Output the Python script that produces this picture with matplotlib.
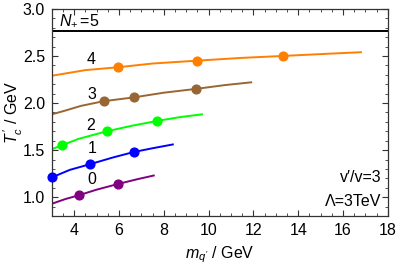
import matplotlib
matplotlib.use("Agg")
import matplotlib.pyplot as plt
from matplotlib.ticker import MultipleLocator

plt.rcParams['font.family'] = ['Liberation Sans', 'DejaVu Sans']
plt.rcParams['mathtext.fontset'] = 'custom'
plt.rcParams['mathtext.rm'] = 'Liberation Sans'
plt.rcParams['mathtext.it'] = 'Liberation Sans:italic'

# curves (m_q' in GeV, T_c' in GeV)
x4 = [3.0, 4.5, 5.95, 7.5, 9.47, 11.5, 13.3, 15.0, 16.8]
y4 = [2.29, 2.35, 2.38, 2.42, 2.45, 2.48, 2.50, 2.52, 2.54]
x3 = [3.0, 3.6, 4.3, 5.32, 6.66, 8.0, 9.43, 10.7, 11.9]
y3 = [1.88, 1.92, 1.97, 2.02, 2.06, 2.11, 2.15, 2.19, 2.22]
x2 = [3.0, 3.43, 4.2, 5.45, 6.6, 7.7, 8.7, 9.7]
y2 = [1.51, 1.55, 1.62, 1.70, 1.76, 1.81, 1.85, 1.88]
x1 = [3.0, 3.8, 4.7, 5.7, 6.66, 7.5, 8.4]
y1 = [1.21, 1.29, 1.35, 1.42, 1.48, 1.52, 1.56]
x0 = [3.0, 3.6, 4.2, 5.0, 5.95, 6.8, 7.55]
y0 = [0.93, 0.98, 1.02, 1.08, 1.14, 1.19, 1.23]

# marked points
px4 = [5.95, 9.47, 13.3]
py4 = [2.38, 2.45, 2.50]
px3 = [5.32, 6.66, 9.43]
py3 = [2.02, 2.06, 2.15]
px2 = [3.43, 5.45, 7.7]
py2 = [1.55, 1.70, 1.81]
px1 = [3.0, 4.7, 6.66]
py1 = [1.21, 1.35, 1.48]
px0 = [4.2, 5.95]
py0 = [1.02, 1.14]

n_plus_5 = 2.77
labels = ['0', '1', '2', '3', '4']
label_x = [4.8, 4.8, 4.75, 4.8, 4.75]
label_y = [1.19, 1.52, 1.76, 2.09, 2.46]

colors = ['#800080', '#0000ff', '#00ff00', '#996633', '#ff7f00']
fs = 11.5

fig = plt.figure(figsize=(3.99, 2.70), dpi=100)
ax = fig.add_axes([0.130, 0.200, 0.842, 0.767])

curves = [(x0, y0, px0, py0), (x1, y1, px1, py1), (x2, y2, px2, py2),
          (x3, y3, px3, py3), (x4, y4, px4, py4)]
for (cx, cy, mx, my), c in zip(curves, colors):
    ax.plot(cx, cy, '-', color=c, lw=1.4)
    ax.plot(mx, my, 'o', color=c, ms=6.3, clip_on=False, zorder=3)

for t, lx, ly in zip(labels, label_x, label_y):
    ax.text(lx, ly, t, fontsize=fs, ha='center', va='center')

ax.axhline(n_plus_5, color='black', lw=1.4)
ax.text(3.3, 2.88, r'$N_{+}\,$=5', fontsize=fs, ha='left', va='center')

ax.text(17.7, 1.21, "v\u2032/v=3", fontsize=fs, ha='right', va='center')
ax.text(17.7, 0.95, 'Λ=3TeV', fontsize=fs, ha='right', va='center')

ax.set_xlim(3, 18)
ax.set_ylim(0.8, 3.0)
ax.xaxis.set_major_locator(MultipleLocator(2))
ax.xaxis.set_minor_locator(MultipleLocator(0.5))
ax.yaxis.set_major_locator(MultipleLocator(0.5))
ax.yaxis.set_minor_locator(MultipleLocator(0.1))
ax.tick_params(which='both', direction='in', top=True, right=True,
               labelsize=fs, color='#333333')
ax.tick_params(which='major', length=4, width=0.8, pad=5)
ax.tick_params(which='minor', length=2, width=0.6)
ax.xaxis.set_major_formatter(plt.FuncFormatter(lambda v, p: '%d' % v))
ax.yaxis.set_major_formatter(plt.FuncFormatter(lambda v, p: '%.1f' % v))
for s in ax.spines.values():
    s.set_color('#333333')
    s.set_linewidth(0.9)

ax.set_xlabel(r"$m_{q^{\prime}}$ / GeV", fontsize=fs, labelpad=5)
ax.set_ylabel(r"$T_c^{\,\prime}$ / GeV", fontsize=fs, va='center')
ax.yaxis.set_label_coords(-0.115, 0.5)

fig.savefig('out.png', dpi=100)
